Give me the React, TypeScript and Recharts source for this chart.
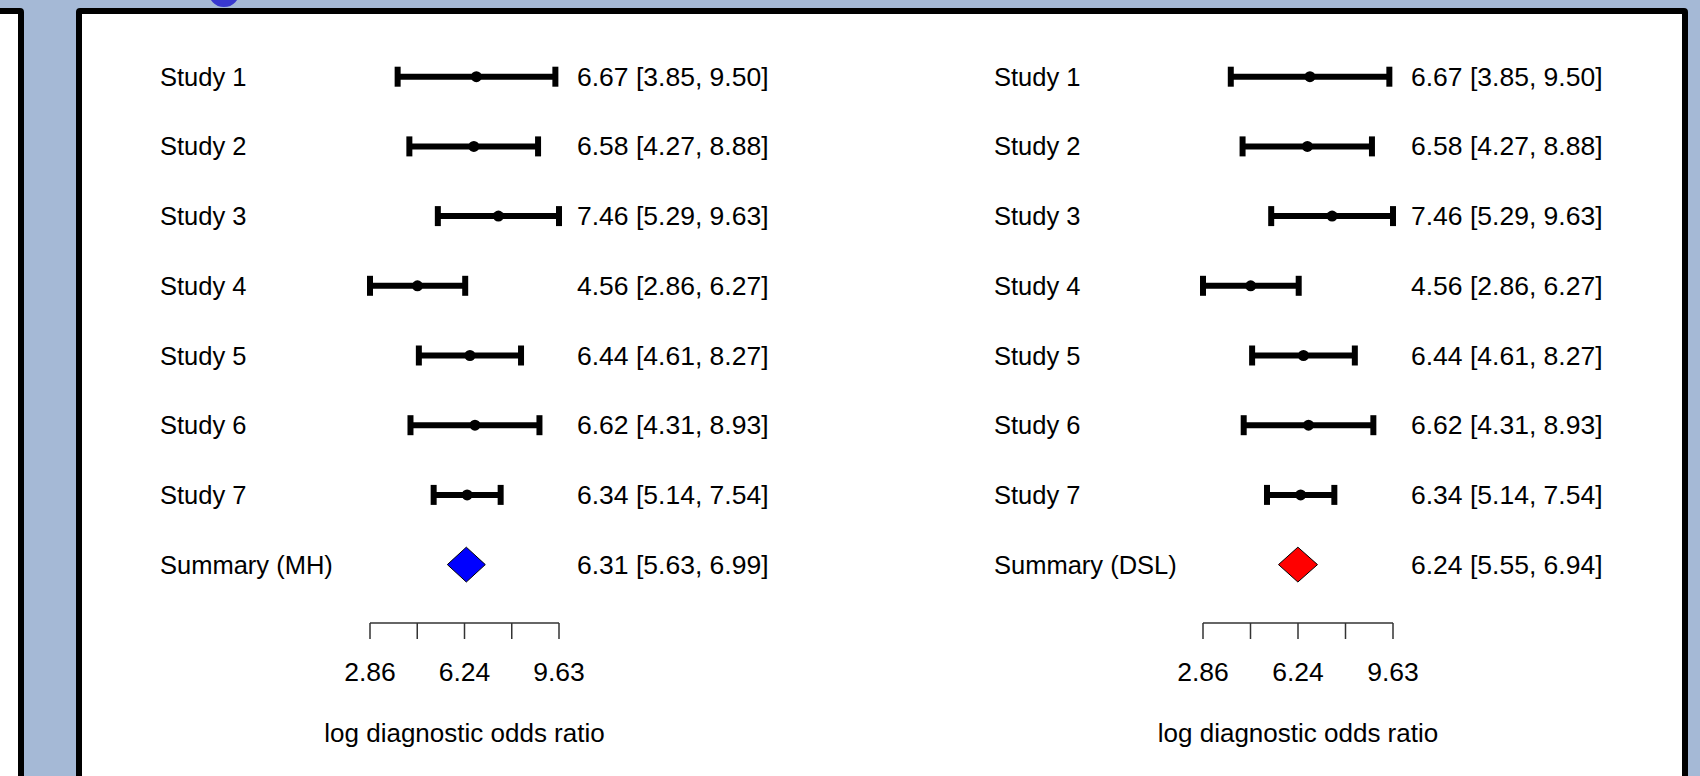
import React from 'react';
import { ScatterChart, Scatter, XAxis, YAxis, ErrorBar, Label } from 'recharts';

// ---------- data ----------
const STUDY_LABELS = ['Study 1', 'Study 2', 'Study 3', 'Study 4', 'Study 5', 'Study 6', 'Study 7'];
const STUDY_EST = [6.67, 6.58, 7.46, 4.56, 6.44, 6.62, 6.34];
const STUDY_LO = [3.85, 4.27, 5.29, 2.86, 4.61, 4.31, 5.14];
const STUDY_HI = [9.5, 8.88, 9.63, 6.27, 8.27, 8.93, 7.54];
// [estimate, lower, upper]
const SUMMARY_MH = [6.31, 5.63, 6.99];
const SUMMARY_DSL = [6.24, 5.55, 6.94];
const X_TICKS = [2.86, 4.5525, 6.245, 7.9375, 9.63];
const X_TICK_LABELS = ['2.86', '', '6.24', '', '9.63'];
const X_TITLE = 'log diagnostic odds ratio';

// ---------- style constants ----------
const FONT = "'Liberation Sans', Arial, sans-serif";
const FS_LABEL = 25.5;
const FS_CI = 26.5;
const FS_TICK = 26.5;
const FS_TITLE = 26;
const CHART_H = 776;
const Y_MAX = (623 - 7) / 69.7;
const DIAMOND_HALF = 0.25;

const fmt = (v: number) => v.toFixed(2);
const fmtCI = (e: number, l: number, h: number) => `${fmt(e)} [${fmt(l)}, ${fmt(h)}]`;

function Dot(props: any) {
  const { cx, cy } = props;
  if (cx == null || cy == null) return <g />;
  return <circle cx={cx} cy={cy} r={5.5} fill="#000" />;
}

function Empty() {
  return <g />;
}

function ForestPanel(props: any) {
  const { summaryName, summary, color, width, leftW, rightW, labelX } = props;
  const rowNames = [...STUDY_LABELS, summaryName];
  const [sEst, sLo, sHi] = summary;
  const sRow = STUDY_LABELS.length + 1;
  const studyData = STUDY_EST.map((e, i) => ({
    x: e,
    y: i + 1,
    err: [e - STUDY_LO[i], STUDY_HI[i] - e],
  }));
  const diamond = [
    { x: sLo, y: sRow },
    { x: sEst, y: sRow - DIAMOND_HALF },
    { x: sHi, y: sRow },
    { x: sEst, y: sRow + DIAMOND_HALF },
    { x: sLo, y: sRow },
  ];
  const ciText = [
    ...STUDY_EST.map((e, i) => fmtCI(e, STUDY_LO[i], STUDY_HI[i])),
    fmtCI(sEst, sLo, sHi),
  ];
  const rowTicks = rowNames.map((_, i) => i + 1);

  return (
    <ScatterChart width={width} height={CHART_H} margin={{ top: 7, right: 0, bottom: 0, left: 0 }}>
      <XAxis
        type="number"
        dataKey="x"
        domain={[X_TICKS[0], X_TICKS[X_TICKS.length - 1]]}
        ticks={X_TICKS}
        interval={0}
        allowDataOverflow
        tickFormatter={(v: number, i: number) => X_TICK_LABELS[i]}
        tickSize={16}
        tickMargin={23}
        height={CHART_H - 623}
        axisLine={{ stroke: '#333', strokeWidth: 1.5 }}
        tickLine={{ stroke: '#333', strokeWidth: 1.5 }}
        tick={{ fill: '#000', fontSize: FS_TICK, fontFamily: FONT }}
      >
        <Label
          content={(p: any) => {
            const vb = p.viewBox || {};
            return (
              <text
                x={vb.x + vb.width / 2}
                y={vb.y + 119}
                textAnchor="middle"
                fontSize={FS_TITLE}
                fontFamily={FONT}
                fill="#000"
              >
                {X_TITLE}
              </text>
            );
          }}
        />
      </XAxis>
      <YAxis
        yAxisId="l"
        type="number"
        dataKey="y"
        domain={[0, Y_MAX]}
        reversed
        ticks={rowTicks}
        interval={0}
        width={leftW}
        axisLine={false}
        tickLine={false}
        tick={(p: any) => (
          <text x={labelX} y={p.y + 9} textAnchor="start" fontSize={FS_LABEL} fontFamily={FONT} fill="#000">
            {rowNames[p.payload.value - 1]}
          </text>
        )}
      />
      <YAxis
        yAxisId="r"
        orientation="right"
        type="number"
        dataKey="y"
        domain={[0, Y_MAX]}
        reversed
        ticks={rowTicks}
        interval={0}
        width={rightW}
        axisLine={false}
        tickLine={false}
        tickSize={0}
        tickMargin={18}
        tick={(p: any) => (
          <text x={p.x} y={p.y + 9} textAnchor="start" fontSize={FS_CI} fontFamily={FONT} fill="#000">
            {ciText[p.payload.value - 1]}
          </text>
        )}
      />
      <Scatter yAxisId="r" data={studyData} shape={Empty} isAnimationActive={false} />
      <Scatter yAxisId="l" data={studyData} shape={Dot} isAnimationActive={false}>
        <ErrorBar dataKey="err" direction="x" width={10} strokeWidth={6} stroke="#000" />
      </Scatter>
      <Scatter
        yAxisId="l"
        data={diamond}
        line={{ fill: color, stroke: '#000', strokeWidth: 1 }}
        lineType="joint"
        shape={Empty}
        isAnimationActive={false}
      />
    </ScatterChart>
  );
}

export default function App() {
  return (
    <div
      style={{
        position: 'absolute',
        left: 0,
        top: 0,
        width: 1700,
        height: 776,
        background: '#A5B9D6',
        overflow: 'hidden',
        fontFamily: FONT,
      }}
    >
      <div
        style={{
          position: 'absolute',
          left: 208,
          top: -26,
          width: 32,
          height: 33,
          borderRadius: '50%',
          border: '7px solid #3838CF',
          boxSizing: 'border-box',
        }}
      />
      <div
        style={{
          position: 'absolute',
          left: -100,
          top: 8,
          width: 124,
          height: 900,
          border: '6px solid #000',
          borderRadius: 4,
          background: '#fff',
          boxSizing: 'border-box',
        }}
      />
      <div
        style={{
          position: 'absolute',
          left: 76,
          top: 8,
          width: 1612,
          height: 900,
          border: '6px solid #000',
          borderRadius: 4,
          background: '#fff',
          boxSizing: 'border-box',
        }}
      />
      <div style={{ position: 'absolute', left: 0, top: 0 }}>
        <ForestPanel
          summaryName="Summary (MH)"
          summary={SUMMARY_MH}
          color="#0000FF"
          width={800}
          leftW={370}
          rightW={241}
          labelX={160}
        />
      </div>
      <div style={{ position: 'absolute', left: 800, top: 0 }}>
        <ForestPanel
          summaryName="Summary (DSL)"
          summary={SUMMARY_DSL}
          color="#FF0000"
          width={900}
          leftW={403}
          rightW={307}
          labelX={194}
        />
      </div>
    </div>
  );
}
